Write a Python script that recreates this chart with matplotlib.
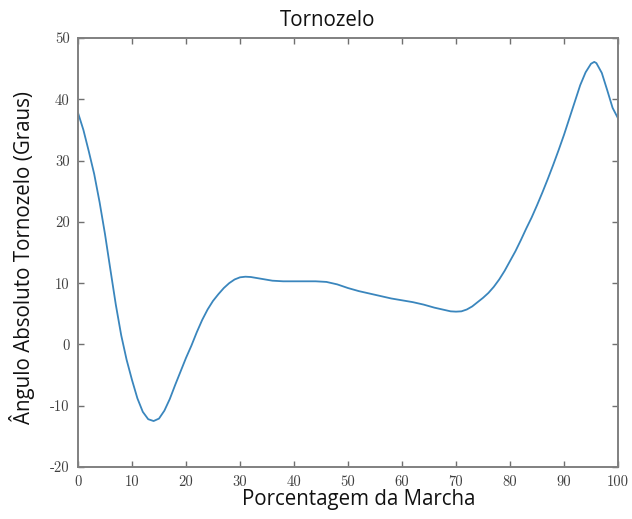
import matplotlib
matplotlib.use("Agg")
import matplotlib.pyplot as plt

pct = [0, 1, 2, 3, 4, 5, 6, 7, 8, 9, 10, 11, 12, 13, 14, 15, 16, 17, 18, 19,
       20, 21, 22, 23, 24, 25, 26, 27, 28, 29, 30, 31, 32, 34, 36, 38, 40, 42,
       44, 46, 48, 50, 52, 54, 56, 58, 60, 62, 64, 66, 68, 69, 70, 71, 72, 73,
       74, 75, 76, 77, 78, 79, 80, 81, 82, 83, 84, 85, 86, 87, 88, 89, 90, 91,
       92, 93, 94, 95, 95.6, 96, 97, 98, 99, 100]
angle = [37.8, 35.0, 31.5, 27.8, 23.2, 18.0, 12.2, 6.5, 1.5, -2.5, -5.8, -8.8,
         -11.0, -12.2, -12.5, -12.1, -10.8, -8.9, -6.6, -4.4, -2.2, -0.2, 2.0,
         4.0, 5.7, 7.1, 8.2, 9.2, 10.0, 10.6, 10.95, 11.05, 11.0, 10.7, 10.4,
         10.3, 10.3, 10.3, 10.3, 10.2, 9.8, 9.2, 8.7, 8.3, 7.9, 7.5, 7.2, 6.9,
         6.5, 6.0, 5.6, 5.4, 5.35, 5.4, 5.7, 6.2, 6.9, 7.6, 8.4, 9.4, 10.6,
         12.0, 13.6, 15.2, 17.0, 18.9, 20.7, 22.7, 24.8, 27.0, 29.3, 31.7,
         34.2, 36.9, 39.6, 42.3, 44.4, 45.8, 46.1, 45.9, 44.3, 41.5, 38.6, 36.9]

xticks = [0, 10, 20, 30, 40, 50, 60, 70, 80, 90, 100]
yticks = [-20, -10, 0, 10, 20, 30, 40, 50]

plt.rcParams['axes.unicode_minus'] = False
fig = plt.figure(figsize=(6.32, 5.19), dpi=100)
ax = fig.add_axes([78/632, 1-467/519, 540/632, 429/519])
ax.plot(pct, angle, color='#3a86bd', lw=1.3)
ax.set_xlim(0, 100)
ax.set_ylim(-20, 50)
ax.set_xticks(xticks)
ax.set_yticks(yticks)
ax.tick_params(direction='in', top=True, right=True, length=4, width=1,
               color='#707070', labelcolor='#404040', labelsize=10.5, pad=6)
for lbl in ax.get_xticklabels() + ax.get_yticklabels():
    lbl.set_fontfamily('cmr10')
for s in ax.spines.values():
    s.set_color('#808080')
    s.set_linewidth(1.4)

sans = ['Open Sans', 'DejaVu Sans']
fig.text(328/632, 1-20/519, 'Tornozelo', ha='center', va='center',
         fontsize=14.8, family=sans, color='#111111')
fig.text(359/632, 1-500/519, 'Porcentagem da Marcha', ha='center', va='center',
         fontsize=14.8, family=sans, color='#111111')
fig.text(22/632, 1-258/519, 'Ângulo Absoluto Tornozelo (Graus)', ha='center',
         va='center', rotation=90, fontsize=14.8, family=sans, color='#111111')

fig.savefig('out.png', dpi=100)
